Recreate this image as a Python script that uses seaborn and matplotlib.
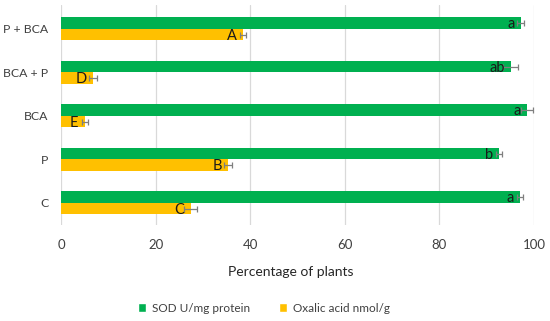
import matplotlib
matplotlib.use("Agg")
import matplotlib.pyplot as plt
import seaborn as sns
import pandas as pd
import numpy as np
from matplotlib.patches import Patch

categories = ["P + BCA", "BCA + P", "BCA", "P", "C"]
series = ["SOD U/mg protein", "Oxalic acid nmol/g"]
sod = [97.2, 95.1, 98.5, 92.6, 97.0]
sod_err = [0.7, 1.6, 1.2, 0.6, 0.6]
oxalic = [38.5, 6.8, 5.0, 35.3, 27.4]
oxalic_err = [0.6, 0.8, 0.6, 0.8, 1.4]
sod_letters = ["a", "ab", "a", "b", "a"]
oxalic_letters = ["A", "D", "E", "B", "C"]
xticks = [0, 20, 40, 60, 80, 100]

df = pd.DataFrame({
    "cat": categories * 2,
    "series": [series[0]] * 5 + [series[1]] * 5,
    "value": sod + oxalic,
})

sns.set_theme(style="white")
plt.rcParams["font.family"] = ["Lato", "DejaVu Sans"]

colors = {series[0]: "#00B050", series[1]: "#FFC000"}
fig = plt.figure(figsize=(5.5, 3.21), dpi=100)
ax = fig.add_axes([0.111, 0.30, 0.860, 0.685])

W = 0.53
sns.barplot(data=df, y="cat", x="value", hue="series", order=categories,
            hue_order=series, palette=colors, width=W, orient="h",
            ax=ax, legend=False, saturation=1, linewidth=0)

for s_idx, (vals, errs, letters) in enumerate([(sod, sod_err, sod_letters),
                                               (oxalic, oxalic_err, oxalic_letters)]):
    offs = -W / 4 if s_idx == 0 else W / 4
    ys = np.arange(len(categories)) + offs
    ax.errorbar(vals, ys, xerr=errs, fmt="none", ecolor="#7f7f7f",
                elinewidth=0.9, capsize=2.4, capthick=0.9, zorder=4)
    for y, v, e, lab in zip(ys, vals, errs, letters):
        ax.text(v - 1.3, y + 0.03, lab, ha="right", va="center",
                fontsize=10.5, color="#1a1a1a", zorder=5)

ax.set_xlim(0, 100)
ax.set_ylim(len(categories) - 0.5, -0.55)
ax.set_xticks(xticks)
ax.set_xticklabels([str(t) for t in xticks])
ax.grid(axis="x", color="#d9d9d9", linewidth=0.9)
ax.set_axisbelow(True)
for sp in ax.spines.values():
    sp.set_visible(False)
ax.tick_params(axis="both", length=0, labelsize=9.5, colors="#404040")
ax.tick_params(axis="x", pad=10)
ax.tick_params(axis="y", pad=9, labelsize=8.8)
ax.set_ylabel("")
ax.set_xlabel("Percentage of plants", fontsize=10, color="#262626")
ax.xaxis.set_label_coords(0.485, -0.19)

handles = [Patch(facecolor="#00B050", label=series[0]),
           Patch(facecolor="#FFC000", label=series[1])]
fig.legend(handles=handles, loc="center", bbox_to_anchor=(0.48, 0.04), ncol=2,
           frameon=False, fontsize=8.5, handlelength=0.7, handleheight=0.7,
           columnspacing=2.4, handletextpad=0.5, labelcolor="#404040")

fig.savefig("out.png", dpi=100)
